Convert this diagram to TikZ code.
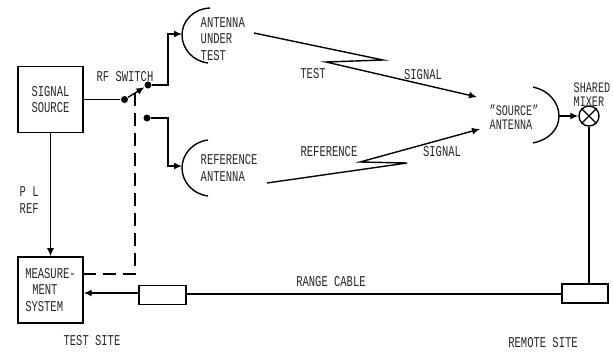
\documentclass[tikz,border=0pt]{standalone}
\usepackage{fontspec}
\setmainfont[FakeStretch=0.7]{Liberation Mono}
\usetikzlibrary{arrows.meta, positioning}

\begin{document}
\begin{tikzpicture}[
  x=1pt, y=-1pt,
  line width=1.4pt,
  node distance=123pt and 0pt,
  box/.style={draw, minimum width=65pt, minimum height=66pt, inner sep=0pt, font=\fontsize{15}{16.5}\selectfont, text=black!85},
  pad/.style={draw, minimum width=47pt, minimum height=19pt, inner sep=0pt},
  lbl/.style={inner sep=0pt, font=\fontsize{15}{16.5}\selectfont, text=black!85},
  tight/.style={lbl, font=\fontsize{14.5}{14}\selectfont},
  dot/.style={circle, fill, inner sep=0pt, minimum size=7pt},
  arrow/.style={-{Latex[length=8pt, width=7pt]}},
  ctrl/.style={dash pattern=on 13pt off 7pt},
  dish/.style={line width=1.4pt}]
  \useasboundingbox (0,0) rectangle (613,351);
  % boxes
  \node[box, align=center] (src) at (50.5,99.5) {SIGNAL\\SOURCE};
  \node[box, below=of src, align=left] (meas) {MEASURE-\\\hspace*{7pt}MENT\\SYSTEM};
  \node[pad] (att) at (162.5,295) {};
  \node[pad, minimum width=46pt] (rem) at (585,293.5) {};
  % switch
  \node[dot] (swin) at (124.5,99.5) {};
  \node[dot] (swup) at (148,85) {};
  \node[dot] (swlo) at (147,118) {};
  \coordinate (swmid) at (135,93);
  \coordinate (swcor) at (135,274);
  \coordinate (measin) at (meas.east |- swcor);
  % antennas
  \coordinate (autfeed) at (182,34);
  \coordinate (reffeed) at (182,166);
  \coordinate (srcfeed) at (559,116);
  \coordinate (upbend) at (168,85);
  \coordinate (lobend) at (168,118);
  \draw[dish] (210,8) .. controls (192,9) and (182,22) .. (182,35) .. controls (182,48) and (192,61) .. (208,63);
  \draw[dish] (208,140) .. controls (192,142) and (182,155) .. (182,168) .. controls (182,181) and (192,194) .. (208,196);
  \draw[dish] (533,87) .. controls (548,90) and (559,102) .. (559,116) .. controls (559,130) and (548,140) .. (533,143);
  \node[draw, circle, inner sep=0pt, minimum size=20pt] (mix) at (589,116) {};
  \draw (mix.45) -- (mix.225);
  \draw (mix.135) -- (mix.315);
  % wiring
  \draw (src) -- (swin);
  \draw[arrow] (swin) -- (swup);
  \draw[arrow] (swup) -- (upbend) |- (autfeed);
  \draw[arrow] (swlo) -- (lobend) |- (reffeed);
  \draw[ctrl] (swmid) -- (swcor) -- (measin);
  \draw[arrow] (src) -- (meas);
  \draw[arrow] (srcfeed) -- (mix);
  \draw (mix) -- (rem.north -| mix);
  \draw (rem.west |- 0,294) -- (att.east |- 0,294);
  \draw[arrow] (att.west |- 0,293) -- (meas.east |- 0,293);
  % radio paths
  \coordinate (ta) at (254,33);
  \coordinate (tb) at (383,60);
  \coordinate (tc) at (326,62);
  \coordinate (td) at (477,97);
  \coordinate (ra) at (267,183);
  \coordinate (rb) at (407,163);
  \coordinate (rc) at (360,162);
  \coordinate (rd) at (480,129);
  \draw[arrow] (ta) -- (tb) -- (tc) -- (td);
  \draw[arrow] (ra) -- (rb) -- (rc) -- (rd);
  % labels
  \node[lbl] (lswitch) at (125,77) {RF SWITCH};
  \node[lbl, anchor=west, align=left] (laut) at (200,39) {ANTENNA\\UNDER\\TEST};
  \node[lbl, anchor=west, align=left] (lref) at (200,168) {REFERENCE\\ANTENNA};
  \node[lbl] (ltest) at (313,74) {TEST};
  \node[lbl] (lsiga) at (423,75) {SIGNAL};
  \node[lbl] (lreftxt) at (329,152) {REFERENCE};
  \node[lbl] (lsigb) at (442,152) {SIGNAL};
  \node[tight, anchor=west, align=left] (lsrc) at (489,117.5) {"SOURCE"\\ANTENNA};
  \node[tight, anchor=west, align=left] (lmix) at (573,95) {SHARED\\MIXER};
  \node[lbl, anchor=west, align=left] (lpl) at (19,200) {P L\\REF};
  \node[lbl] (lcable) at (331,282) {RANGE CABLE};
  \node[lbl] (ltsite) at (92,341) {TEST SITE};
  \node[lbl] (lrsite) at (543,343) {REMOTE SITE};
\end{tikzpicture}
\end{document}
